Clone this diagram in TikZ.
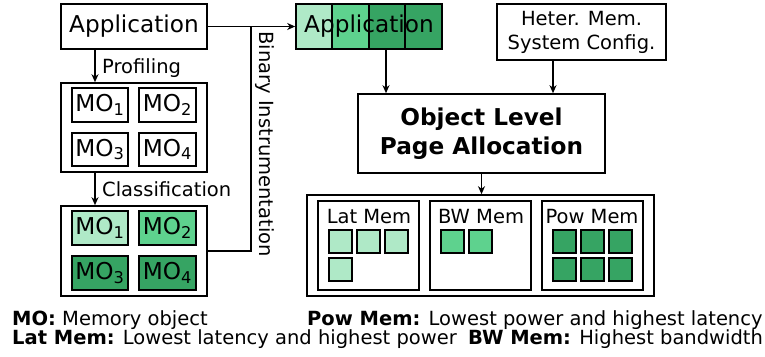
\documentclass[tikz,border=0pt]{standalone}
\usepackage{fontspec}
\setmainfont{DejaVu Sans}
\usetikzlibrary{arrows.meta}
\definecolor{gl}{HTML}{AFE9C7}
\definecolor{gm}{HTML}{5ED28E}
\definecolor{gd}{HTML}{36A463}
\begin{document}
\begin{tikzpicture}[x=1pt,y=-1pt,
  every node/.style={font=\fontsize{19.5}{24}\selectfont},
  big/.style={font=\fontsize{23.2}{29}\selectfont},
  box/.style={draw,line width=1.6pt,inner sep=0pt,rectangle},
  ibox/.style={draw,line width=1.4pt,inner sep=0pt,rectangle,minimum width=56pt,minimum height=34pt,big},
  cell/.style={draw,line width=1.4pt,inner sep=0pt,rectangle,minimum height=45pt},
  sq/.style={draw,line width=1.3pt,inner sep=0pt,rectangle,minimum size=23pt},
  arr/.style={-{Stealth[length=8pt,width=7pt,inset=2.5pt]},line width=1.2pt},
  ln/.style={line width=1.2pt},
  lbl/.style={anchor=base west,inner sep=0pt}
]
\useasboundingbox (0,0) rectangle (765,356);

% left column
\node[box,big,minimum width=146pt,minimum height=45pt] (app) at (134,26.5) {Application};
\node[box,minimum width=146pt,minimum height=89pt] (grp1) at (134,127.5) {};
\node[ibox] (m1a) at (100,105) {MO\textsubscript{1}};
\node[ibox,minimum width=57pt] (m2a) at (167.5,105) {MO\textsubscript{2}};
\node[ibox,minimum height=33pt] (m3a) at (100,149.5) {MO\textsubscript{3}};
\node[ibox,minimum width=57pt,minimum height=33pt] (m4a) at (167.5,149.5) {MO\textsubscript{4}};

\node[box,minimum width=146pt,minimum height=90pt] (grp2) at (134,251) {};
\node[ibox,fill=gl] (m1b) at (100,228) {MO\textsubscript{1}};
\node[ibox,fill=gm,minimum width=57pt] (m2b) at (167.5,228) {MO\textsubscript{2}};
\node[ibox,fill=gd] (m3b) at (100,273) {MO\textsubscript{3}};
\node[ibox,fill=gd,minimum width=57pt] (m4b) at (167.5,273) {MO\textsubscript{4}};

\draw[arr] (95,0 |- app.south) -- (95,0 |- grp1.north);
\node[lbl] (prof) at (102,73) {Profiling};
\draw[arr] (95,0 |- grp1.south) -- (95,0 |- grp2.north);
\node[lbl] (clas) at (102,196) {Classification};

% instrumented application
\node[cell,fill=gl,minimum width=36pt] (c1) at (314,26.5) {};
\node[cell,fill=gm,minimum width=37pt] (c2) at (350.5,26.5) {};
\node[cell,fill=gd,minimum width=36pt] (c3) at (387,26.5) {};
\node[cell,fill=gd,minimum width=37pt] (c4) at (423.5,26.5) {};
\node[box,big,minimum width=146pt,minimum height=45pt] (bar) at (369,26.5) {Application};

\coordinate (bi) at (251,27);
\draw[arr] (app.east) -- (bar.west);
\draw[ln] (grp2.east) -| (bi);
\node[rotate=-90,inner sep=0pt] (binlbl) at (265,144) {Binary Instrumentation};

% right part
\node[box,minimum width=169pt,minimum height=56pt,align=center] (het) at (581.5,32) {Heter. Mem.\\System Config.};
\node[box,big,minimum width=247pt,minimum height=79pt,align=center,font=\fontsize{23.2}{29}\selectfont\bfseries] (ola) at (481.5,133.5) {Object Level\\Page Allocation};
\draw[arr] (386,0 |- bar.south) -- (386,0 |- ola.north);
\draw[arr] (553,0 |- het.south) -- (553,0 |- ola.north);

\node[box,minimum width=347pt,minimum height=101pt] (mem) at (480.5,245.5) {};
\draw[arr] (ola.south) -- (ola.south |- mem.north);
\node[box,minimum width=101pt,minimum height=89pt] (lat) at (368.5,245.5) {};
\node[box,minimum width=101pt,minimum height=89pt] (bw) at (480.5,245.5) {};
\node[box,minimum width=101pt,minimum height=89pt] (pow) at (592.5,245.5) {};
\node[anchor=base,inner sep=0pt] (latl) at (369,223) {Lat Mem};
\node[anchor=base,inner sep=0pt] (bwl) at (481,223) {BW Mem};
\node[anchor=base,inner sep=0pt] (powl) at (592,223) {Pow Mem};

\foreach \x/\y [count=\i] in {340.5/241.5,368.5/241.5,396.5/241.5,340.5/269.5}
  \node[sq,fill=gl] (l\i) at (\x,\y) {};
\foreach \x/\y [count=\i] in {452.5/241.5,480.5/241.5}
  \node[sq,fill=gm] (b\i) at (\x,\y) {};
\foreach \x/\y [count=\i] in {564.5/241.5,592.5/241.5,620.5/241.5,564.5/269.5,592.5/269.5,620.5/269.5}
  \node[sq,fill=gd] (p\i) at (\x,\y) {};

% legend
\node[lbl] (lg1) at (12,325) {\textbf{MO:} Memory object};
\node[lbl] (lg2) at (307,325) {\textbf{Pow Mem:} Lowest power and highest latency};
\node[lbl] (lg3) at (12,344) {\textbf{Lat Mem:} Lowest latency and highest power};
\node[lbl] (lg4) at (468,344) {\textbf{BW Mem:} Highest bandwidth};
\end{tikzpicture}
\end{document}
